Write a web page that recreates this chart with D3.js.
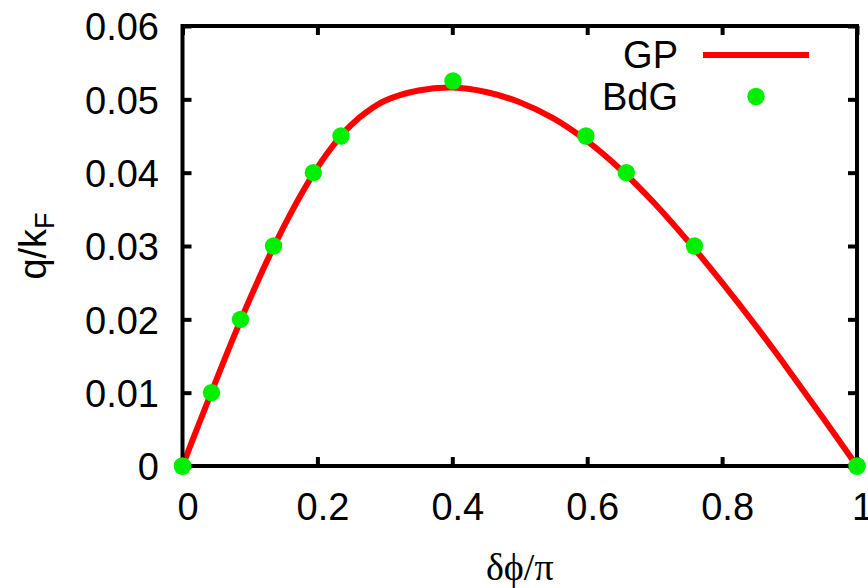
<!DOCTYPE html>
<html>
<head>
<meta charset="utf-8">
<script src="https://cdn.jsdelivr.net/npm/d3@7"></script>
<style>
  html, body { margin: 0; padding: 0; background: #fff; }
  svg { display: block; }
  .sans { font-family: "Liberation Sans", Arial, Helvetica, sans-serif; }
  .serif { font-family: "Liberation Serif", "Times New Roman", serif; }
</style>
</head>
<body>
<svg id="chart" width="868" height="588"></svg>
<script>
// GP curve: q/k_F as a function of δϕ/π
const gpPhase = [0, 0.025, 0.05, 0.075, 0.1, 0.125, 0.15, 0.175, 0.2, 0.225, 0.25, 0.275, 0.3, 0.35, 0.4, 0.45, 0.5, 0.55, 0.6, 0.65, 0.7, 0.75, 0.8, 0.85, 0.9, 0.95, 1];
const gpQ     = [0, 0.0059, 0.0117, 0.0174, 0.0228, 0.0279, 0.0326, 0.0369, 0.0407, 0.0439, 0.0465, 0.0484, 0.0498, 0.0512, 0.0516, 0.0510, 0.0496, 0.0474, 0.0443, 0.0404, 0.0358, 0.0306, 0.0250, 0.0191, 0.0129, 0.0065, 0];

// BdG points
const bdgPhase = [0, 0.043, 0.086, 0.135, 0.194, 0.235, 0.401, 0.598, 0.658, 0.759, 1];
const bdgQ     = [0, 0.01, 0.02, 0.03, 0.04, 0.045, 0.0525, 0.045, 0.04, 0.03, 0];

// Axis ticks
const xTickValues = [0, 0.2, 0.4, 0.6, 0.8, 1];
const xTickLabels = ["0", "0.2", "0.4", "0.6", "0.8", "1"];
const yTickValues = [0, 0.01, 0.02, 0.03, 0.04, 0.05, 0.06];
const yTickLabels = ["0", "0.01", "0.02", "0.03", "0.04", "0.05", "0.06"];

const legendNames = ["GP", "BdG"];
const gpColor = "#ff0000";
const bdgColor = "#00ee00";

const svg = d3.select("#chart");
const plot = { left: 182.5, right: 857, top: 26, bottom: 466 };

const x = d3.scaleLinear().domain([0, 1]).range([plot.left, plot.right]);
const y = d3.scaleLinear().domain([0, 0.06]).range([plot.bottom, plot.top]);

const fontSize = 38;

// Curve
const line = d3.line()
  .x(d => x(d[0]))
  .y(d => y(d[1]))
  .curve(d3.curveCatmullRom.alpha(0.5));

svg.append("path")
  .datum(gpPhase.map((p, i) => [p, gpQ[i]]))
  .attr("d", line)
  .attr("fill", "none")
  .attr("stroke", gpColor)
  .attr("stroke-width", 6)
  .attr("stroke-linejoin", "round");

// Points
svg.append("g")
  .selectAll("circle")
  .data(bdgPhase.map((p, i) => [p, bdgQ[i]]))
  .join("circle")
  .attr("cx", d => x(d[0]))
  .attr("cy", d => y(d[1]))
  .attr("r", 8.7)
  .attr("fill", bdgColor);

// Axes with inward ticks on all four sides
function styleAxis(g, showLabels) {
  g.select(".domain").remove();
  g.selectAll(".tick line").attr("stroke", "#000").attr("stroke-width", 4);
  g.selectAll(".tick text")
    .attr("class", "sans")
    .attr("font-size", fontSize)
    .attr("fill", "#000")
    .style("display", showLabels ? null : "none");
}

const xAxisB = d3.axisBottom(x).tickValues(xTickValues)
  .tickFormat((d, i) => xTickLabels[i]).tickSizeInner(-9).tickSizeOuter(0).tickPadding(27);
svg.append("g").attr("transform", `translate(0,${plot.bottom})`).call(xAxisB)
  .call(g => styleAxis(g, true))
  .call(g => g.selectAll(".tick text").attr("dx", 5).attr("dy", "0.71em"));

const xAxisT = d3.axisTop(x).tickValues(xTickValues).tickSizeInner(-9).tickSizeOuter(0);
svg.append("g").attr("transform", `translate(0,${plot.top})`).call(xAxisT)
  .call(g => styleAxis(g, false));

const yAxisL = d3.axisLeft(y).tickValues(yTickValues)
  .tickFormat((d, i) => yTickLabels[i]).tickSizeInner(-9).tickSizeOuter(0).tickPadding(23.5);
svg.append("g").attr("transform", `translate(${plot.left},0)`).call(yAxisL)
  .call(g => styleAxis(g, true))
  .call(g => g.selectAll(".tick text").attr("dy", "0.36em"));

const yAxisR = d3.axisRight(y).tickValues(yTickValues).tickSizeInner(-9).tickSizeOuter(0);
svg.append("g").attr("transform", `translate(${plot.right},0)`).call(yAxisR)
  .call(g => styleAxis(g, false));

// Frame
svg.append("rect")
  .attr("x", plot.left).attr("y", plot.top)
  .attr("width", plot.right - plot.left).attr("height", plot.bottom - plot.top)
  .attr("fill", "none").attr("stroke", "#000").attr("stroke-width", 4);

// Endpoint markers sit on top of the frame
svg.append("g")
  .selectAll("circle")
  .data(bdgPhase.map((p, i) => [p, bdgQ[i]]).filter(d => d[1] === 0))
  .join("circle")
  .attr("cx", d => x(d[0]))
  .attr("cy", d => y(d[1]))
  .attr("r", 8.7)
  .attr("fill", bdgColor);

// Axis titles
svg.append("text")
  .attr("class", "serif")
  .attr("x", (plot.left + plot.right) / 2)
  .attr("y", 580)
  .attr("text-anchor", "middle")
  .attr("font-size", fontSize)
  .text("δϕ/π");

const yTitle = svg.append("text")
  .attr("class", "sans")
  .attr("transform", `translate(46,${(plot.top + plot.bottom) / 2}) rotate(-90)`)
  .attr("text-anchor", "middle")
  .attr("font-size", fontSize);
yTitle.append("tspan").text("q/k");
yTitle.append("tspan").attr("font-size", 27).attr("dy", 8).text("F");

// Legend
const legend = svg.append("g").attr("class", "sans");
legend.append("text").attr("x", 678).attr("y", 68).attr("text-anchor", "end")
  .attr("font-size", fontSize).text(legendNames[0]);
legend.append("line").attr("x1", 703).attr("x2", 809).attr("y1", 55).attr("y2", 55)
  .attr("stroke", gpColor).attr("stroke-width", 6);
legend.append("text").attr("x", 678).attr("y", 110).attr("text-anchor", "end")
  .attr("font-size", fontSize).text(legendNames[1]);
legend.append("circle").attr("cx", 756).attr("cy", 96.5).attr("r", 8.7).attr("fill", bdgColor);
</script>
</body>
</html>
